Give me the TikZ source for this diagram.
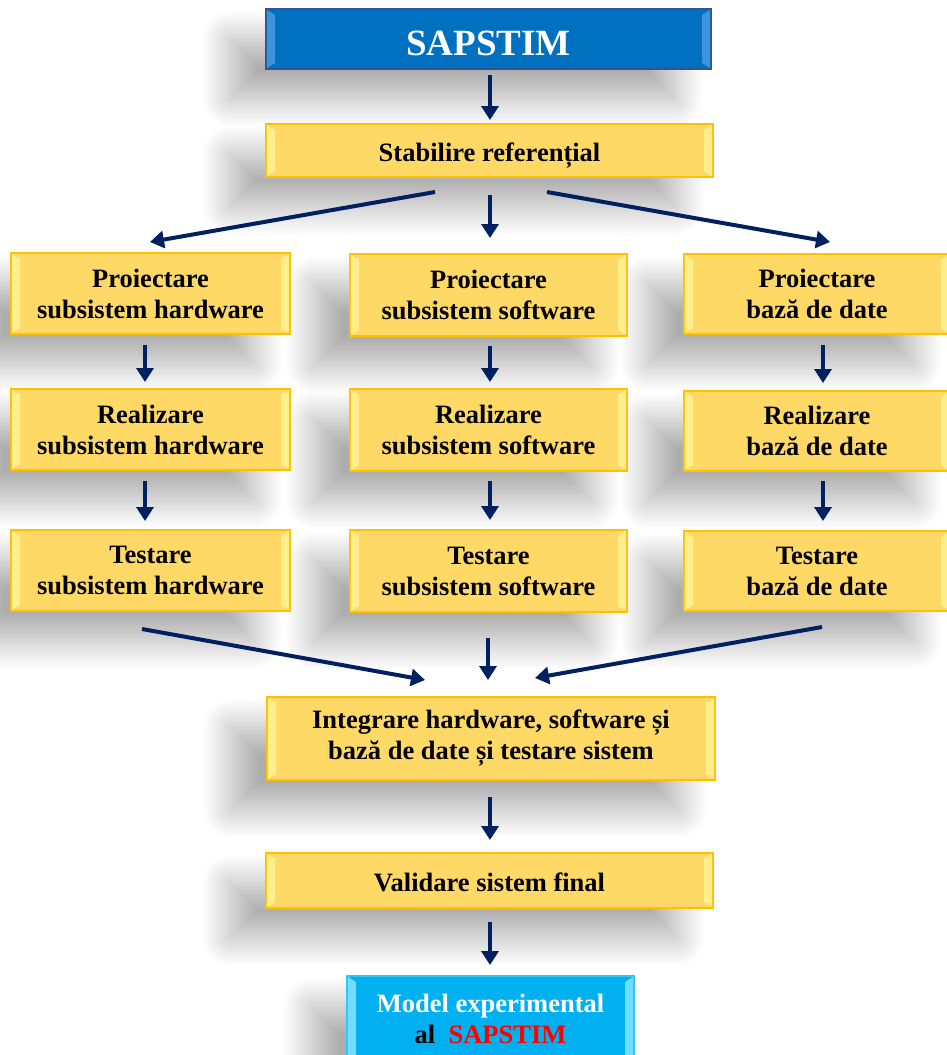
\documentclass[tikz,border=0pt]{standalone}
\usepackage{fontspec}
\setmainfont{Liberation Serif}
\usetikzlibrary{arrows.meta,shadows.blur,calc}
\pgfdeclarelayer{background}
\pgfsetlayers{background,main}

\definecolor{boxfill}{HTML}{FFD966}
\definecolor{boxline}{HTML}{FFC000}
\definecolor{boxbevel}{HTML}{FFEE8C}
\definecolor{headfill}{HTML}{0070C0}
\definecolor{headline}{HTML}{2F5597}
\definecolor{headbevel}{HTML}{3E93DD}
\definecolor{endfill}{HTML}{00B0F0}
\definecolor{endline}{HTML}{33C3F5}
\definecolor{endbevel}{HTML}{70DCFF}
\definecolor{arrowcol}{HTML}{002060}

% light trapezoids on the left and right sides of a box
\newcommand\bevelbox[2]{%
  \fill[#2] ([shift={(0.8pt,-0.8pt)}]#1.north west) -- ([shift={(9pt,-6pt)}]#1.north west)
    -- ([shift={(9pt,6pt)}]#1.south west) -- ([shift={(0.8pt,0.8pt)}]#1.south west) -- cycle;
  \fill[#2] ([shift={(-0.8pt,-0.8pt)}]#1.north east) -- ([shift={(-9pt,-6pt)}]#1.north east)
    -- ([shift={(-9pt,6pt)}]#1.south east) -- ([shift={(-0.8pt,0.8pt)}]#1.south east) -- cycle;
}

\begin{document}
\begin{tikzpicture}[x=1pt,y=-1pt,
  box/.style={rectangle, draw=boxline, line width=1.6pt, fill=boxfill,
    outer sep=0pt, inner sep=0pt, align=center,
    font=\fontsize{26.5}{31}\selectfont\bfseries, text=black},
  oneline/.style={text height=22pt, text depth=0pt},
  headbox/.style={box, draw=headline, fill=headfill, text=white,
    font=\fontsize{37}{40}\selectfont\bfseries, text height=32pt, text depth=0pt},
  endbox/.style={box, draw=endline, fill=endfill, text=white},
  flow/.style={draw=arrowcol, line width=4pt, -{Triangle[width=17pt,length=14pt]}},
  shade/.style={blur shadow={shadow xshift=-36pt, shadow yshift=-30pt,
    shadow blur radius=28pt, shadow opacity=32, shadow blur steps=40}}]

\useasboundingbox (0,0) rectangle (947,1055);

% boxes
\node[headbox, minimum width=445pt, minimum height=60pt] (top) at (488.5,39) {SAPSTIM};
\node[box, oneline, minimum width=447pt, minimum height=53pt] (stab) at (489.5,150.5) {Stabilire referențial};

\node[box, minimum width=279pt, minimum height=81pt] (phw) at (150.5,293.5) {Proiectare\\subsistem hardware};
\node[box, minimum width=277pt, minimum height=82pt] (psw) at (488.5,295) {Proiectare\\subsistem software};
\node[box, minimum width=266pt, minimum height=80pt] (pbd) at (817,294) {Proiectare\\bază de date};

\node[box, minimum width=279pt, minimum height=81pt] (rhw) at (150.5,429.5) {Realizare\\subsistem hardware};
\node[box, minimum width=277pt, minimum height=82pt] (rsw) at (488.5,430) {Realizare\\subsistem software};
\node[box, minimum width=266pt, minimum height=80pt] (rbd) at (817,431) {Realizare\\bază de date};

\node[box, minimum width=279pt, minimum height=81pt] (thw) at (150.5,570.5) {Testare\\subsistem hardware};
\node[box, minimum width=277pt, minimum height=82pt] (tsw) at (488.5,571) {Testare\\subsistem software};
\node[box, minimum width=266pt, minimum height=80pt] (tbd) at (817,571) {Testare\\bază de date};

\node[box, minimum width=448pt, minimum height=83pt] (integ) at (491,738.5) {Integrare hardware, software și\\bază de date și testare sistem};
\node[box, oneline, minimum width=447pt, minimum height=55pt] (valid) at (489.5,880.5) {Validare sistem final};
\node[endbox, minimum width=287pt, minimum height=86pt] (model) at (490.5,1019) {Model experimental\\{\color{black}al}\ \ {\color{red}SAPSTIM}};

% side bevels
\bevelbox{top}{headbevel}
\bevelbox{model}{endbevel}
\foreach \n in {stab,phw,psw,pbd,rhw,rsw,rbd,thw,tsw,tbd,integ,valid}{\bevelbox{\n}{boxbevel}}

% soft drop shadows behind every box
\begin{pgfonlayer}{background}
  \foreach \n in {top,stab,phw,psw,pbd,rhw,rsw,rbd,thw,tsw,tbd,integ,valid,model}{
    \path[shade] (\n.north west) rectangle (\n.south east);
  }
\end{pgfonlayer}

% connectors
\draw[flow] ($(top.south)+(1.5,6)$) -- ($(stab.north)+(0.5,-4)$);

\draw[flow] ($(stab.south)+(-54.5,15)$) -- ($(phw.north)+(-0.5,-11)$);
\draw[flow] ($(stab.south)+(0.5,18)$) -- ($(psw.north)+(1.5,-16)$);
\draw[flow] ($(stab.south)+(57.5,15)$) -- ($(pbd.north)+(13,-12)$);

\draw[flow] ($(phw.south)+(-5.5,11)$) -- ($(rhw.north)+(-5.5,-7)$);
\draw[flow] ($(psw.south)+(1.5,10)$) -- ($(rsw.north)+(1.5,-7)$);
\draw[flow] ($(pbd.south)+(6,11)$) -- ($(rbd.north)+(6,-8)$);

\draw[flow] ($(rhw.south)+(-5.5,11)$) -- ($(thw.north)+(-5.5,-9)$);
\draw[flow] ($(rsw.south)+(1.5,10)$) -- ($(tsw.north)+(1.5,-10)$);
\draw[flow] ($(rbd.south)+(6,10)$) -- ($(tbd.north)+(6,-10)$);

\draw[flow] ($(thw.south)+(-8.5,18)$) -- ($(integ.north)+(-66,-17)$);
\draw[flow] ($(tsw.south)+(-0.5,26)$) -- ($(integ.north)+(-3,-17)$);
\draw[flow] ($(tbd.south)+(5,16)$) -- ($(integ.north)+(44,-19)$);

\draw[flow] ($(integ.south)+(-1,17)$) -- ($(valid.north)+(0.5,-13)$);
\draw[flow] ($(valid.south)+(0.5,14)$) -- ($(model.north)+(-0.5,-11)$);

\end{tikzpicture}
\end{document}
